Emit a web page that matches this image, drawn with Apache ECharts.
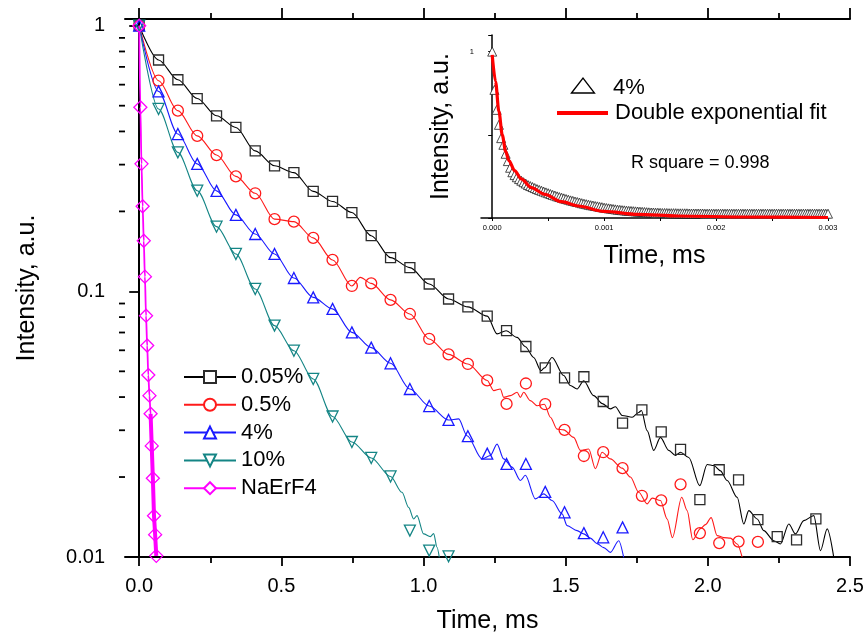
<!DOCTYPE html>
<html>
<head>
<meta charset="utf-8">
<script src="https://cdn.jsdelivr.net/npm/echarts@6/dist/echarts.min.js"></script>
<style>
  html, body { margin: 0; padding: 0; background: #fff; }
  #chart { width: 868px; height: 637px; }
</style>
</head>
<body>
<div id="chart"></div>
<script>
const FONT = '"Liberation Sans", Arial, Helvetica, sans-serif';

// ---- Main panel: luminescence decay curves (log intensity vs time) ----
// Times (ms) of the marked samples shared by the doped series
const markTimes = [0, 0.068, 0.136, 0.204, 0.272, 0.34, 0.408, 0.476, 0.544, 0.612,
  0.68, 0.748, 0.816, 0.884, 0.952, 1.02, 1.088, 1.156, 1.224, 1.292,
  1.36, 1.428, 1.496, 1.564, 1.632, 1.7, 1.768, 1.836, 1.904, 1.972,
  2.04, 2.108, 2.176, 2.244, 2.312, 2.38];

const int005 = [1.0, 0.743, 0.626, 0.532, 0.458, 0.414, 0.338, 0.297, 0.280, 0.238,
  0.218, 0.198, 0.162, 0.134, 0.1228, 0.1066, 0.0936, 0.0874, 0.0807, 0.0711,
  0.0620, 0.0515, 0.0472, 0.0477, 0.0385, 0.0319, 0.0358, 0.0296, 0.0254, 0.01644,
  0.0213, 0.0195, 0.01383, 0.01193, 0.0116, 0.01391];

const int05 = [1.0, 0.621, 0.479, 0.385, 0.326, 0.271, 0.234, 0.187, 0.183, 0.159,
  0.1313, 0.1048, 0.1072, 0.0929, 0.0822, 0.0662, 0.0579, 0.0533, 0.0462, 0.0377,
  0.0450, 0.0376, 0.0301, 0.0240, 0.0248, 0.0216, 0.0170, 0.01634, 0.01877, 0.0123,
  0.01128, 0.01143, 0.0114];

const int4 = [1.0, 0.566, 0.391, 0.302, 0.239, 0.194, 0.1644, 0.1383, 0.1123, 0.0949,
  0.0859, 0.0701, 0.0614, 0.0536, 0.0429, 0.0370, 0.0328, 0.0285, 0.0245, 0.0224,
  0.0224, 0.01758, 0.01473, 0.0123, 0.01186, 0.01293];

const int10 = [1.0, 0.486, 0.3336, 0.2393, 0.1752, 0.1383, 0.1021, 0.0743, 0.0598, 0.0468,
  0.0338, 0.0271, 0.0236, 0.0201, 0.01257, 0.01057, 0.01006];

// NaErF4 decays much faster and is sampled more finely
const naTimes = [0, 0.004, 0.008, 0.012, 0.016, 0.02, 0.024, 0.028, 0.032, 0.036,
  0.04, 0.044, 0.048, 0.052, 0.056, 0.06];
const intNa = [1.0, 0.493, 0.302, 0.209, 0.155, 0.1136, 0.081, 0.0625, 0.0484, 0.0405,
  0.0346, 0.0262, 0.0198, 0.0143, 0.01214, 0.0101];

// Traced curves: each follows its first marked samples, then the noisy tail below
const head005 = 19, head05 = 19, head4 = 17, head10 = 14;
const extra05 = [[0.7776, 0.1129]];

const tail005 = [[1.2586, 0.0692], [1.2903, 0.0711], [1.3290, 0.0671], [1.3582, 0.0619],
  [1.3874, 0.0564], [1.4127, 0.0503], [1.4250, 0.0515], [1.4521, 0.0564], [1.4930, 0.0482],
  [1.5165, 0.0442], [1.5401, 0.0429], [1.5634, 0.0461], [1.5985, 0.0405], [1.6291, 0.0378],
  [1.6573, 0.0361], [1.6749, 0.0368], [1.6985, 0.0341], [1.7336, 0.0336], [1.7569, 0.0350],
  [1.7664, 0.0356], [1.7864, 0.0299], [1.8097, 0.0252], [1.8332, 0.0282], [1.8624, 0.0252],
  [1.8860, 0.0241], [1.9036, 0.0248], [1.9328, 0.0237], [1.9715, 0.01856], [1.9975, 0.0223],
  [2.0208, 0.0221], [2.0443, 0.0211], [2.0679, 0.0194], [2.1031, 0.01678], [2.1263, 0.01332],
  [2.1439, 0.01495], [2.1735, 0.01391], [2.1967, 0.01257], [2.2319, 0.01152], [2.2554, 0.0112],
  [2.2847, 0.01332], [2.3082, 0.01222], [2.3374, 0.01371], [2.3726, 0.01431], [2.3962, 0.01057],
  [2.4198, 0.01276], [2.4430, 0.00995]];

const tail05 = [[1.2467, 0.0423], [1.2702, 0.0429], [1.2818, 0.0399], [1.3054, 0.0405],
  [1.3290, 0.0417], [1.3406, 0.0399], [1.3522, 0.0417], [1.3758, 0.0388], [1.3994, 0.0371],
  [1.4250, 0.0376], [1.4462, 0.0336], [1.4697, 0.0303], [1.4930, 0.0301], [1.5282, 0.0282],
  [1.5517, 0.0252], [1.5809, 0.0255], [1.6045, 0.0215], [1.6281, 0.0248], [1.6573, 0.0234],
  [1.6985, 0.0216], [1.7277, 0.0200], [1.7569, 0.01752], [1.7864, 0.01585], [1.8040, 0.01666],
  [1.8332, 0.01631], [1.8568, 0.01391], [1.8755, 0.01183], [1.9081, 0.01678], [1.9272, 0.01495],
  [1.9469, 0.01162], [1.9740, 0.01279], [1.9916, 0.01324], [2.0116, 0.01407], [2.0327, 0.01204],
  [2.0560, 0.01183], [2.0795, 0.01178], [2.1031, 0.0112], [2.1207, 0.00998]];

const tail4 = [[1.1235, 0.0331], [1.1531, 0.0286], [1.2058, 0.0234], [1.2350, 0.0241],
  [1.2586, 0.0266], [1.2818, 0.0234], [1.3114, 0.0218], [1.3406, 0.0194], [1.3582, 0.0203],
  [1.3934, 0.01655], [1.4226, 0.01728], [1.4521, 0.01631], [1.4873, 0.01453], [1.5049, 0.01313],
  [1.5401, 0.01257], [1.5634, 0.01222], [1.5869, 0.01178], [1.6105, 0.01123], [1.6337, 0.01085],
  [1.6573, 0.01041], [1.6865, 0.01152], [1.7041, 0.00995]];

const tail10 = [[0.9243, 0.01752], [0.9476, 0.01538], [0.9652, 0.01391], [0.9771, 0.01431],
  [1.0004, 0.01222], [1.0239, 0.01193], [1.0355, 0.01225], [1.0475, 0.01088], [1.0556, 0.00995]];

// Axis ticks
const xMin = -0.05, xMax = 2.5;
const xMajor = [0, 0.5, 1.0, 1.5, 2.0, 2.5];
const xMinor = [0.25, 0.75, 1.25, 1.75, 2.25];
const yMin = 0.01, yMax = 1.06;
const yMinor = [0.02, 0.03, 0.04, 0.05, 0.06, 0.07, 0.08, 0.09,
  0.2, 0.3, 0.4, 0.5, 0.6, 0.7, 0.8, 0.9];

// ---- Inset: 4% decay on a linear scale with a double exponential fit ----
const insetStep = 0.00002;
const insetInt = [1.00, 0.77, 0.65, 0.56, 0.48, 0.44, 0.386, 0.342, 0.302, 0.275,
  0.258, 0.245, 0.234, 0.224, 0.215, 0.207, 0.198, 0.192, 0.186, 0.180,
  0.174, 0.169, 0.164, 0.159, 0.154, 0.149, 0.144, 0.139, 0.135, 0.130,
  0.126, 0.122, 0.118, 0.114, 0.110, 0.106, 0.103, 0.099, 0.096, 0.093,
  0.089, 0.086, 0.083, 0.080, 0.077, 0.075, 0.072, 0.070, 0.067, 0.065,
  0.062, 0.060, 0.058, 0.056, 0.054, 0.052, 0.050, 0.049, 0.047, 0.046,
  0.044, 0.043, 0.042, 0.041, 0.040, 0.039, 0.038, 0.037, 0.036, 0.035,
  0.034, 0.033, 0.033, 0.032, 0.032, 0.031, 0.030, 0.030, 0.030, 0.029,
  0.029, 0.029, 0.029, 0.028, 0.028, 0.028, 0.028, 0.028, 0.027, 0.027,
  0.027, 0.027, 0.027, 0.027, 0.027, 0.026, 0.026, 0.026, 0.026, 0.026,
  0.026, 0.026, 0.026, 0.026, 0.026, 0.026, 0.026, 0.026, 0.026, 0.026,
  0.026, 0.026, 0.026, 0.026, 0.026, 0.026, 0.026, 0.026, 0.026, 0.026,
  0.026, 0.026, 0.026, 0.026, 0.026, 0.026, 0.026, 0.026, 0.026, 0.026,
  0.026, 0.026, 0.026, 0.026, 0.026, 0.026, 0.026, 0.026, 0.026, 0.026,
  0.026, 0.026, 0.026, 0.026, 0.026, 0.026, 0.026, 0.026, 0.026, 0.026, 0.026];
const insetFit = [[0, 0.98], [0.00003, 0.82], [0.00006, 0.64], [0.00009, 0.50], [0.00012, 0.40],
  [0.00015, 0.345], [0.0002, 0.285], [0.00026, 0.235], [0.00035, 0.182], [0.00047, 0.142],
  [0.00062, 0.098], [0.00077, 0.072], [0.001, 0.040], [0.0013, 0.022], [0.00166, 0.012],
  [0.00226, 0.006], [0.003, 0.003]];
const insetXTicks = [0, 0.0005, 0.001, 0.0015, 0.002, 0.0025, 0.003];
const insetXLabels = [0, 0.001, 0.002, 0.003];

// ---- Build series data ----
const pairs = (ts, vs) => vs.map((v, i) => [ts[i], v]);
const byTime = (a, b) => a[0] - b[0];
const curve005 = pairs(markTimes, int005).slice(0, head005).concat(tail005);
const curve05 = pairs(markTimes, int05).slice(0, head05).concat(extra05, tail05).sort(byTime);
const curve4 = pairs(markTimes, int4).slice(0, head4).concat(tail4);
const curve10 = pairs(markTimes, int10).slice(0, head10).concat(tail10);
const curveNa = pairs(naTimes, intNa);
const insetPts = insetInt.map((v, i) => [i * insetStep, v]);

const defs = [
  { name: '0.05%', color: '#000000', mark: '#2b2b2b', symbol: 'rect', size: 10, curve: curve005, pts: pairs(markTimes, int005) },
  { name: '0.5%', color: '#ff1a1a', mark: '#ff1a1a', symbol: 'circle', size: 11, curve: curve05, pts: pairs(markTimes, int05) },
  { name: '4%', color: '#1a1aff', mark: '#1a1aff', symbol: 'triangle', size: 11, curve: curve4, pts: pairs(markTimes, int4) },
  { name: '10%', color: '#148585', mark: '#148585', symbol: 'triangle', rotate: 180, size: 11, curve: curve10, pts: pairs(markTimes, int10) },
  { name: 'NaErF4', color: '#ff00ff', mark: '#ff00ff', symbol: 'diamond', size: [13, 13], curve: curveNa, pts: curveNa, width: 1.8 }
];

const series = [];
defs.forEach(d => {
  series.push({
    type: 'line', name: d.name, xAxisIndex: 0, yAxisIndex: 0,
    data: d.curve, smooth: 0.3, smoothMonotone: 'x',
    showSymbol: false, symbol: d.symbol, symbolRotate: d.rotate || 0,
    itemStyle: { color: '#fff', borderColor: d.mark, borderWidth: 1.2 },
    lineStyle: { color: d.color, width: d.width || 1.1 },
    emphasis: { disabled: true }, z: 2
  });
});
// dense, overlapping tail of the NaErF4 trace
series.push({
  type: 'line', name: 'NaErF4 tail', xAxisIndex: 0, yAxisIndex: 0,
  data: curveNa.slice(10), showSymbol: false,
  lineStyle: { color: '#ff00ff', width: 4 }, emphasis: { disabled: true }, z: 2
});
defs.forEach(d => {
  series.push({
    type: 'scatter', name: d.name + ' marks', xAxisIndex: 0, yAxisIndex: 0,
    data: d.pts, symbol: d.symbol, symbolSize: d.size, symbolRotate: d.rotate || 0,
    itemStyle: { color: 'rgba(255,255,255,0)', borderColor: d.mark, borderWidth: 1.3, opacity: 1 },
    emphasis: { disabled: true }, z: 3
  });
});
// minor ticks of the logarithmic intensity axis
series.push({
  type: 'custom', name: 'y minor ticks', xAxisIndex: 0, yAxisIndex: 0, silent: true, clip: false,
  data: yMinor.map(v => [xMin, v]),
  renderItem: (params, api) => {
    const p = api.coord([api.value(0), api.value(1)]);
    return { type: 'line', shape: { x1: p[0] - 6, y1: p[1], x2: p[0], y2: p[1] },
      style: { stroke: '#000', lineWidth: 1.8 } };
  }
});
// inset series
series.push({
  type: 'scatter', name: '4% inset', xAxisIndex: 4, yAxisIndex: 3,
  data: insetPts, symbol: 'triangle', symbolSize: 9,
  itemStyle: { color: '#fff', borderColor: '#222', borderWidth: 0.8, opacity: 1 },
  emphasis: { disabled: true }, z: 3
});
series.push({
  type: 'line', name: 'Double exponential fit', xAxisIndex: 4, yAxisIndex: 3,
  data: insetFit, smooth: 0.3, smoothMonotone: 'x', showSymbol: false,
  lineStyle: { color: '#ff0000', width: 3.2 }, emphasis: { disabled: true }, z: 4
});

const axisLine = { show: true, lineStyle: { color: '#000', width: 2 } };
const tickStyle = { color: '#000', width: 1.8 };
const titleStyle = { fontFamily: FONT, fontSize: 25, color: '#000' };

const option = {
  animation: false,
  backgroundColor: '#fff',
  textStyle: { fontFamily: FONT },
  grid: [
    { left: 125, right: 18, top: 19, bottom: 80, containLabel: false, outerBoundsMode: 'none' },
    { left: 481, right: 40, top: 35, bottom: 419, containLabel: false, outerBoundsMode: 'none' }
  ],
  legend: {
    data: defs.map(d => d.name),
    orient: 'vertical', left: 183, top: 366, padding: 0,
    itemWidth: 52, itemHeight: 15, itemGap: 5.8,
    textStyle: { fontFamily: FONT, fontSize: 22, color: '#000', lineHeight: 22 },
    selectedMode: false
  },
  xAxis: [
    { gridIndex: 0, type: 'value', position: 'bottom', min: xMin, max: xMax,
      axisLine, splitLine: { show: false },
      axisTick: { customValues: xMajor, length: 9, lineStyle: tickStyle },
      axisLabel: { customValues: xMajor, formatter: v => v.toFixed(1), fontFamily: FONT, fontSize: 20, color: '#000', margin: 19 },
      name: 'Time, ms', nameLocation: 'middle', nameGap: 52, nameTextStyle: titleStyle },
    { gridIndex: 0, type: 'value', position: 'bottom', min: xMin, max: xMax,
      axisLine: { show: false }, splitLine: { show: false }, axisLabel: { show: false },
      axisTick: { customValues: xMinor, length: 6, lineStyle: tickStyle } },
    { gridIndex: 0, type: 'value', position: 'top', min: xMin, max: xMax,
      axisLine, splitLine: { show: false }, axisLabel: { show: false },
      axisTick: { customValues: xMajor, length: 11, lineStyle: tickStyle } },
    { gridIndex: 0, type: 'value', position: 'top', min: xMin, max: xMax,
      axisLine: { show: false }, splitLine: { show: false }, axisLabel: { show: false },
      axisTick: { customValues: xMinor, length: 6, lineStyle: tickStyle } },
    { gridIndex: 1, type: 'value', position: 'bottom', min: -0.0001, max: 0.003,
      axisLine: { show: true, lineStyle: { color: '#000', width: 1.5 } }, splitLine: { show: false },
      axisTick: { customValues: insetXTicks, length: 3, lineStyle: { color: '#000', width: 1 } },
      axisLabel: { customValues: insetXLabels, formatter: v => v.toFixed(3), fontFamily: FONT, fontSize: 7.5, color: '#000', margin: 6 },
      name: 'Time, ms', nameLocation: 'middle', nameGap: 26, nameTextStyle: titleStyle }
  ],
  yAxis: [
    { gridIndex: 0, type: 'log', logBase: 10, position: 'left', min: yMin, max: yMax, interval: 1,
      axisLine, splitLine: { show: false }, minorTick: { show: false },
      axisTick: { length: 10, lineStyle: tickStyle },
      axisLabel: { formatter: v => String(+Number(v).toPrecision(2)), fontFamily: FONT, fontSize: 20, color: '#000', margin: 20 },
      name: 'Intensity, a.u.', nameLocation: 'middle', nameGap: 85, nameTextStyle: titleStyle },
    { gridIndex: 0, type: 'log', logBase: 10, position: 'right', min: yMin, max: yMax,
      axisLine, splitLine: { show: false }, axisTick: { show: false }, axisLabel: { show: false } },
    { gridIndex: 0, type: 'log', logBase: 10, position: 'right', min: yMin, max: yMax, show: false },
    { gridIndex: 1, type: 'value', position: 'left', min: 0, max: 1.1, interval: 0.5,
      axisLine: { show: true, lineStyle: { color: '#000', width: 1.5 } }, splitLine: { show: false },
      axisTick: { length: 4, lineStyle: { color: '#000', width: 1 } },
      axisLabel: { formatter: v => (v === 1 ? '1' : ''), fontFamily: FONT, fontSize: 7.5, color: '#000', margin: 7 },
      name: 'Intensity, a.u.', nameLocation: 'middle', nameGap: 27, nameTextStyle: titleStyle }
  ],
  graphic: [
    { type: 'polygon', shape: { points: [[571.5, 93], [583, 78], [594.5, 93]] },
      style: { fill: '#fff', stroke: '#000', lineWidth: 1.3 } },
    { type: 'text', style: { text: '4%', x: 613, y: 88, verticalAlign: 'middle', fill: '#000', font: '22px ' + FONT } },
    { type: 'line', shape: { x1: 557, y1: 113, x2: 608, y2: 113 }, style: { stroke: '#ff0000', lineWidth: 4 } },
    { type: 'text', style: { text: 'Double exponential fit', x: 615, y: 113, verticalAlign: 'middle', fill: '#000', font: '22px ' + FONT } },
    { type: 'text', style: { text: 'R square = 0.998', x: 631, y: 163, verticalAlign: 'middle', fill: '#000', font: '18px ' + FONT } }
  ],
  series
};

const chart = echarts.init(document.getElementById('chart'), null, { renderer: 'canvas' });
chart.setOption(option);
</script>
</body>
</html>
